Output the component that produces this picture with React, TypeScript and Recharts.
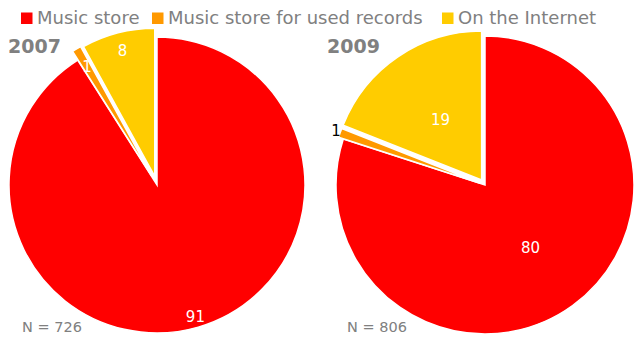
import React from "react";
import { PieChart, Pie, Cell, Legend } from "recharts";

const categories = ["Music store", "Music store for used records", "On the Internet"];
const colors = ["#FF0000", "#FF9900", "#FFCC00"];
const years = ["2007", "2009"];
const values2007 = [91, 1, 8];
const values2009 = [80, 1, 19];
const sampleSizes = [726, 806];

const W = 637;
const H = 337;
const FONT = "'DejaVu Sans', Verdana, sans-serif";
const GRAY = "#808080";

// per-pie look: centre, radius, how far each slice is pulled out, where its label sits
const pies = [
  {
    values: values2007,
    cx: 157,
    cy: 185,
    r: 148,
    explode: [0, 10, 9],
    labelPos: [0.93, 0.86, 0.875],
    labelColor: ["#fff", "#fff", "#fff"],
    titleX: 8,
    nX: 22,
  },
  {
    values: values2009,
    cx: 485,
    cy: 185,
    r: 149,
    explode: [0, 5, 6],
    labelPos: [0.52, 1.03, 0.49],
    labelColor: ["#fff", "#000", "#fff"],
    titleX: 327,
    nX: 347,
  },
];

const sum = (a: number[]) => a.reduce((s, v) => s + v, 0);

// offset of a slice pulled out along its middle angle (clockwise from 12 o'clock)
const explodeOffset = (values: number[], i: number, d: number) => {
  const mid = ((sum(values.slice(0, i)) + values[i] / 2) / sum(values)) * 2 * Math.PI;
  return { dx: Math.sin(mid) * d, dy: -Math.cos(mid) * d };
};

const legendLayout = [21, 152, 442];

const renderLegend = () => (
  <svg width={W} height={32} style={{ display: "block" }}>
    {categories.map((c, i) => (
      <g key={c}>
        <rect x={legendLayout[i]} y={12.5} width={11.5} height={11.5} fill={colors[i]} />
        <text x={legendLayout[i] + 16} y={24} fontFamily={FONT} fontSize={18} fill={GRAY}>
          {c}
        </text>
      </g>
    ))}
  </svg>
);

export default function App() {
  const data = pies.map((p) => p.values.map((v, i) => ({ name: categories[i], value: v })));

  const makeLabel = (pi: number) => (props: any) => {
    const p = pies[pi];
    const { cx, cy, midAngle, outerRadius, index, value } = props;
    const off = explodeOffset(p.values, index, p.explode[index]);
    const rad = (-midAngle * Math.PI) / 180;
    const rr = outerRadius * p.labelPos[index];
    const x = cx + off.dx + rr * Math.cos(rad);
    const y = cy + off.dy + rr * Math.sin(rad);
    return (
      <text
        key={`l-${pi}-${index}`}
        x={x}
        y={y}
        textAnchor="middle"
        dominantBaseline="central"
        fontFamily={FONT}
        fontSize={15}
        fill={p.labelColor[index]}
      >
        {value}
      </text>
    );
  };

  return (
    <div style={{ position: "absolute", left: 0, top: 0, width: W, height: H, background: "#fff" }}>
      <PieChart width={W} height={H} margin={{ top: 0, right: 0, bottom: 0, left: 0 }}>
        <Legend
          content={renderLegend}
          wrapperStyle={{ position: "absolute", top: 0, left: 0, width: W, height: 32 }}
        />
        {pies.map((p, pi) => (
          <Pie
            key={years[pi]}
            data={data[pi]}
            dataKey="value"
            nameKey="name"
            cx={p.cx}
            cy={p.cy}
            innerRadius={0}
            outerRadius={p.r}
            startAngle={90}
            endAngle={-270}
            stroke="#fff"
            strokeWidth={1.5}
            label={makeLabel(pi)}
            labelLine={false}
            isAnimationActive={false}
          >
            {p.values.map((_, i) => {
              const off = explodeOffset(p.values, i, p.explode[i]);
              return (
                <Cell key={i} fill={colors[i]} transform={`translate(${off.dx} ${off.dy})`} />
              );
            })}
          </Pie>
        ))}
      </PieChart>
      <svg
        width={W}
        height={H}
        style={{ position: "absolute", left: 0, top: 0, pointerEvents: "none" }}
      >
        {pies.map((p, pi) => (
          <g key={years[pi]}>
            <text x={p.titleX} y={53} fontFamily={FONT} fontSize={19} fontWeight="bold" fill={GRAY}>
              {years[pi]}
            </text>
            <text x={p.nX} y={332} fontFamily={FONT} fontSize={14.5} fill={GRAY}>
              {`N = ${sampleSizes[pi]}`}
            </text>
          </g>
        ))}
      </svg>
    </div>
  );
}
